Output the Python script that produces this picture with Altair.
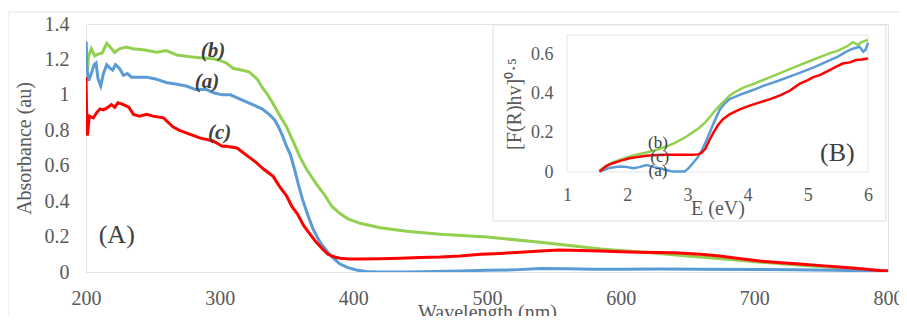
import altair as alt
import pandas as pd

FONT = "Liberation Serif"
GREEN, BLUE, RED = "#92D050", "#5B9BD5", "#FF0000"

# ---- Main spectrum: wavelength (nm) vs absorbance ----
wl_a = [200, 200.5, 202, 204, 206, 207.5, 209, 211, 213, 215.5,
        218, 220, 222, 225, 228, 231, 234, 238, 245, 252,
        260, 268, 275, 282, 290, 296, 302, 308, 314, 320,
        326, 332, 337, 341, 344, 347, 350, 353, 356, 359,
        362, 366, 370, 375, 380, 384, 390, 396, 403, 410,
        420, 440, 460, 480, 500, 520, 540, 560, 580, 600,
        630, 660, 700, 730, 760, 780, 800]
abs_a = [1.30, 1.16, 1.08, 1.12, 1.17, 1.18, 1.09, 1.05, 1.12, 1.17,
         1.15, 1.14, 1.17, 1.15, 1.11, 1.12, 1.10, 1.10, 1.10, 1.09,
         1.07, 1.06, 1.05, 1.03, 1.03, 1.01, 1.00, 1.00, 0.98, 0.96,
         0.94, 0.92, 0.89, 0.86, 0.82, 0.77, 0.71, 0.66, 0.58, 0.49,
         0.41, 0.32, 0.24, 0.17, 0.12, 0.085, 0.045, 0.025, 0.01, 0.003,
         0.0, 0.0, 0.003, 0.006, 0.01, 0.012, 0.02, 0.018, 0.016, 0.016,
         0.017, 0.016, 0.014, 0.012, 0.01, 0.007, 0.005]

wl_b = [200, 201, 202, 204, 206.5, 209, 212, 215.5, 218, 221.5,
        225, 230, 235, 243, 253, 260, 268, 278, 285, 293,
        298, 305, 310, 316, 322, 328, 332, 336, 340, 343,
        346, 350, 353, 356, 360, 365, 372, 378, 384, 390,
        396, 405, 420, 440, 465, 500, 540, 585, 620, 650,
        680, 705, 735, 765, 785, 800]
abs_b = [1.30, 1.14, 1.22, 1.26, 1.22, 1.23, 1.235, 1.29, 1.27, 1.24,
         1.26, 1.27, 1.26, 1.255, 1.24, 1.25, 1.225, 1.215, 1.21, 1.205,
         1.20, 1.18, 1.15, 1.14, 1.13, 1.09, 1.04, 1.00, 0.95, 0.91,
         0.87, 0.82, 0.77, 0.72, 0.65, 0.58, 0.50, 0.44, 0.37, 0.33,
         0.30, 0.275, 0.25, 0.23, 0.213, 0.197, 0.168, 0.13, 0.11, 0.09,
         0.072, 0.055, 0.038, 0.022, 0.01, 0.003]

wl_c = [200, 200.5, 201, 202.5, 205.5, 208, 210.5, 213, 215.5, 219,
        221.5, 224, 228, 232, 235.5, 240, 245.5, 250, 258, 265,
        270, 275, 285, 295, 302, 305, 313, 320, 327, 333,
        340, 345, 350, 354, 358, 363, 368, 372, 377, 381,
        386, 390, 397, 405, 420, 435, 450, 465, 480, 495,
        510, 525, 540, 554, 570, 585, 600, 614, 630, 644,
        660, 674, 690, 704, 720, 734, 750, 764, 780, 794, 800]
abs_c = [1.10, 0.90, 0.77, 0.88, 0.87, 0.90, 0.92, 0.915, 0.925, 0.945,
         0.93, 0.955, 0.945, 0.93, 0.89, 0.88, 0.89, 0.88, 0.87, 0.82,
         0.80, 0.785, 0.757, 0.74, 0.71, 0.71, 0.70, 0.66, 0.62, 0.58,
         0.54, 0.48, 0.43, 0.37, 0.33, 0.26, 0.21, 0.17, 0.13, 0.10,
         0.085, 0.078, 0.074, 0.073, 0.075, 0.078, 0.082, 0.084, 0.09, 0.10,
         0.105, 0.112, 0.118, 0.124, 0.122, 0.118, 0.115, 0.112, 0.11, 0.107,
         0.10, 0.09, 0.075, 0.062, 0.052, 0.045, 0.036, 0.028, 0.018, 0.008, 0.005]

main_labels = ["(b)", "(a)", "(c)", "(A)"]
main_label_x = [295, 290.5, 300, 223]
main_label_y = [1.25, 1.07, 0.787, 0.21]

# ---- Inset: E (eV) vs [F(R)hv]^0.5 ----
E_a = [1.54, 1.7, 1.87, 2.0, 2.1, 2.2, 2.32, 2.45, 2.54, 2.65,
       2.76, 2.95, 3.02, 3.09, 3.16, 3.23, 3.3, 3.37, 3.45, 3.54,
       3.62, 3.70, 3.8, 3.92, 4.1, 4.26, 4.5, 4.81, 5.1, 5.36,
       5.5, 5.64, 5.75, 5.86, 5.92, 5.96, 6.0]
F_a = [0.002, 0.02, 0.028, 0.025, 0.019, 0.025, 0.036, 0.025, 0.019, 0.01,
       0.002, 0.002, 0.02, 0.045, 0.07, 0.105, 0.15, 0.2, 0.26, 0.32,
       0.35, 0.373, 0.385, 0.40, 0.42, 0.44, 0.465, 0.50, 0.535, 0.57,
       0.59, 0.615, 0.63, 0.64, 0.615, 0.625, 0.66]

E_b = [1.54, 1.7, 1.87, 2.1, 2.32, 2.5, 2.65, 2.8, 2.98, 3.1,
       3.2, 3.3, 3.37, 3.45, 3.54, 3.62, 3.70, 3.8, 3.92, 4.1,
       4.26, 4.5, 4.81, 5.1, 5.36, 5.5, 5.64, 5.75, 5.83, 5.9, 6.0]
F_b = [0.007, 0.04, 0.062, 0.085, 0.10, 0.115, 0.13, 0.15, 0.18, 0.205,
       0.226, 0.255, 0.28, 0.31, 0.34, 0.365, 0.39, 0.41, 0.43, 0.45,
       0.47, 0.50, 0.54, 0.575, 0.606, 0.62, 0.64, 0.663, 0.65, 0.665, 0.675]

E_c = [1.54, 1.65, 1.76, 1.9, 2.04, 2.2, 2.32, 2.5, 2.65, 2.9,
       3.09, 3.18, 3.23, 3.3, 3.36, 3.43, 3.51, 3.59, 3.7, 3.87,
       4.0, 4.2, 4.35, 4.53, 4.7, 4.86, 5.0, 5.09, 5.2, 5.36,
       5.45, 5.58, 5.7, 5.8, 5.9, 6.0]
F_c = [0.002, 0.03, 0.045, 0.058, 0.07, 0.078, 0.083, 0.087, 0.088, 0.088,
       0.088, 0.09, 0.097, 0.12, 0.16, 0.2, 0.24, 0.27, 0.295, 0.32,
       0.335, 0.356, 0.37, 0.39, 0.415, 0.45, 0.47, 0.485, 0.495, 0.52,
       0.535, 0.554, 0.56, 0.572, 0.575, 0.58]

inset_labels = ["(b)", "(c)", "(a)", "(B)"]
inset_label_x = [2.51, 2.54, 2.51, 5.49]
inset_label_y = [0.15, 0.078, 0.005, 0.098]
inset_label_size = [17, 17, 17, 26]

x_ticks = [200, 300, 400, 500, 600, 700, 800]
y_ticks = [0, 0.2, 0.4, 0.6, 0.8, 1, 1.2, 1.4]
ix_ticks = [1, 2, 3, 4, 5, 6]
iy_ticks = [0, 0.2, 0.4, 0.6]

W, H = 802, 248
LABEL_COLOR = "#595959"

xs_main = alt.Scale(domain=[200, 800], nice=False, zero=False)
ys_main = alt.Scale(domain=[0, 1.4], nice=False, zero=False)
xs_in = alt.Scale(domain=[1, 6], range=[481, 782], nice=False, zero=False)
ys_in = alt.Scale(domain=[0, 0.7], range=[148, 11], nice=False, zero=False)

x_axis_main = alt.Axis(values=x_ticks, title="Wavelength (nm)", orient="bottom", grid=False,
                       domain=False, ticks=False, labelFlush=False, labelOverlap=False,
                       labelFont=FONT, labelFontSize=20, labelColor=LABEL_COLOR, labelPadding=16,
                       titleFont=FONT, titleFontSize=20, titleFontWeight="normal",
                       titleColor=LABEL_COLOR, titlePadding=-6)
y_axis_main = alt.Axis(values=y_ticks, format="~g", title="Absorbance (au)", orient="left",
                       grid=False, domain=False, ticks=False, labelFlush=False,
                       labelOverlap=False, labelFont=FONT, labelFontSize=20,
                       labelColor=LABEL_COLOR, labelPadding=17, titleFont=FONT,
                       titleFontSize=20, titleFontWeight="normal", titleColor=LABEL_COLOR,
                       titlePadding=10)
x_axis_in = alt.Axis(values=ix_ticks, title="E (eV)", orient="bottom", offset=-100, grid=False,
                     domain=False, ticks=False, labelFlush=False, labelOverlap=False,
                     labelFont=FONT, labelFontSize=18, labelColor=LABEL_COLOR, labelPadding=14,
                     titleFont=FONT, titleFontSize=20, titleFontWeight="normal",
                     titleColor=LABEL_COLOR, titlePadding=-6, zindex=2)
y_axis_in = alt.Axis(values=iy_ticks, format="~g", title="[F(R)hv]⁰·⁵", orient="left",
                     offset=-481, grid=False, domain=False, ticks=False, labelFlush=False,
                     labelOverlap=False, labelFont=FONT, labelFontSize=18,
                     labelColor=LABEL_COLOR, labelPadding=14, titleFont=FONT, titleFontSize=20,
                     titleFontWeight="normal", titleColor=LABEL_COLOR, titlePadding=6, zindex=2)


def main_enc(xf, yf):
    return dict(x=alt.X(xf, scale=xs_main, axis=x_axis_main),
                y=alt.Y(yf, scale=ys_main, axis=y_axis_main))


def inset_enc(xf, yf):
    return dict(x=alt.X(xf, scale=xs_in, axis=x_axis_in),
                y=alt.Y(yf, scale=ys_in, axis=y_axis_in))


def main_line(wl, ab, color):
    df = pd.DataFrame({"wl": wl, "v": ab})
    return alt.Chart(df).mark_line(color=color, strokeWidth=3, clip=True).encode(
        order=alt.Order("wl:Q"), **main_enc("wl:Q", "v:Q"))


def inset_line(e, f, color):
    df = pd.DataFrame({"e": e, "f": f})
    return alt.Chart(df).mark_line(color=color, strokeWidth=2.5).encode(
        order=alt.Order("e:Q"), **inset_enc("e:Q", "f:Q"))


main_text_df = pd.DataFrame({"t": main_labels, "x": main_label_x, "y": main_label_y})
main_small = alt.Chart(main_text_df.iloc[:3]).mark_text(
    font=FONT, fontSize=21, fontStyle="italic", fontWeight="bold", color="#404040").encode(
    text="t:N", **main_enc("x:Q", "y:Q"))
main_big = alt.Chart(main_text_df.iloc[3:]).mark_text(
    font=FONT, fontSize=26, color="#404040").encode(
    text="t:N", **main_enc("x:Q", "y:Q"))

main_group = alt.layer(
    main_line(wl_b, abs_b, GREEN),
    main_line(wl_a, abs_a, BLUE),
    main_line(wl_c, abs_c, RED),
    main_small, main_big,
)

inset_text_df = pd.DataFrame({"t": inset_labels, "x": inset_label_x, "y": inset_label_y,
                              "s": inset_label_size})
inset_text = alt.Chart(inset_text_df).mark_text(font=FONT, color="#404040").encode(
    text="t:N", size=alt.Size("s:Q", scale=None, legend=None), **inset_enc("x:Q", "y:Q"))

inset_group = alt.layer(
    inset_line(E_b, F_b, GREEN),
    inset_line(E_a, F_a, BLUE),
    inset_line(E_c, F_c, RED),
    inset_text,
)

# frames (chart border, inset box, inset plot area)
frame_df = pd.DataFrame({"k": [0]})
outer_border = alt.Chart(frame_df).mark_rect(fill=None, stroke="#e4e4e4", strokeWidth=1).encode(
    x=alt.value(-78), x2=alt.value(W + 40), y=alt.value(-12), y2=alt.value(H + 80))
inset_box = alt.Chart(frame_df).mark_rect(fill="white", stroke="#dedede", strokeWidth=1).encode(
    x=alt.value(407), x2=alt.value(800), y=alt.value(1), y2=alt.value(197))
inset_plot = alt.Chart(frame_df).mark_rect(fill=None, stroke="#e6e6e6", strokeWidth=1).encode(
    x=alt.value(481), x2=alt.value(782), y=alt.value(11), y2=alt.value(148))

chart = alt.layer(
    outer_border, main_group, inset_box, inset_plot, inset_group
).resolve_scale(x="independent", y="independent").resolve_axis(
    x="independent", y="independent").properties(
    width=W, height=H,
    autosize=alt.AutoSizeParams(type="none"),
    padding={"left": 78, "top": 16, "right": 11, "bottom": 44},
    background="white",
).configure_view(stroke="#e3e3e3")

chart.save("out.html", embed_options={"renderer": "svg", "actions": False})
